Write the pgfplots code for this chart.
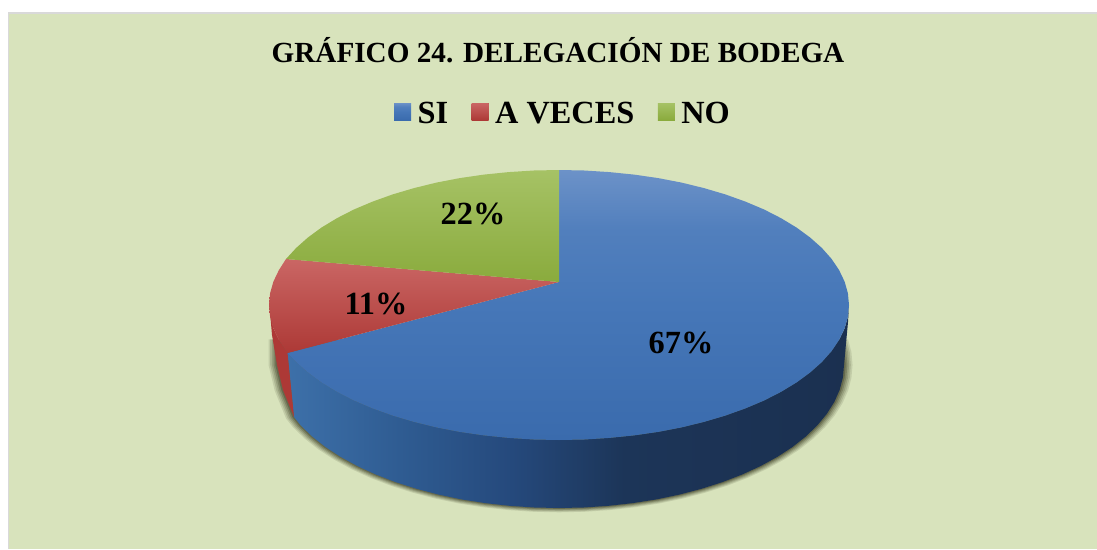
\documentclass[border=0pt]{standalone}
\usepackage{pgfplots}
\usepackage{pgfplotstable}
\pgfplotsset{compat=1.18}
\usepackage{fontspec}
\setmainfont{Liberation Serif}
\definecolor{bgc}{HTML}{D8E3BC}
\definecolor{shadowc}{HTML}{33331A}
\definecolor{b1}{HTML}{3A6BAD}\definecolor{b2}{HTML}{4677B8}\definecolor{b3}{HTML}{6C92C8}
\definecolor{r1}{HTML}{AD3936}\definecolor{r2}{HTML}{CA6664}
\definecolor{g1}{HTML}{8AAB3D}\definecolor{g2}{HTML}{A6C265}
\definecolor{w1}{HTML}{3D70A9}\definecolor{w2}{HTML}{2F5C92}\definecolor{w3}{HTML}{25497C}\definecolor{w4}{HTML}{1C3558}\definecolor{w5}{HTML}{1B3050}
\pgfdeclareverticalshading{blueface}{100bp}{color(0bp)=(b1);color(25bp)=(b1);color(50bp)=(b2);color(64bp)=(b2!70!b3);color(75bp)=(b3);color(100bp)=(b3)}
\pgfdeclareverticalshading{redface}{100bp}{color(0bp)=(r1);color(25bp)=(r1);color(75bp)=(r2);color(100bp)=(r2)}
\pgfdeclareverticalshading{greenface}{100bp}{color(0bp)=(g1);color(25bp)=(g1);color(75bp)=(g2);color(100bp)=(g2)}
\pgfdeclarehorizontalshading{bluewall}{100bp}{color(0bp)=(w1);color(25bp)=(w1);color(35bp)=(w2);color(45bp)=(w3);color(55bp)=(w4);color(75bp)=(w5);color(100bp)=(w5)}
\pgfplotstableread{
x y
839.7 340.2
842.9 352.5
844 365
842.9 377.5
839.7 389.8
834.3 402.0
826.8 413.9
817.3 425.4
805.8 436.5
792.5 447.0
777.3 456.9
760.5 466.1
742.2 474.5
722.5 482.1
701.5 488.8
679.4 494.6
656.5 499.4
632.8 503.1
608.5 505.8
583.8 507.5
559 508
534.2 507.5
509.5 505.8
485.2 503.1
461.5 499.4
438.6 494.6
416.5 488.8
395.5 482.1
375.8 474.5
357.5 466.1
340.7 456.9
325.5 447.0
312.2 436.5
300.7 425.4
294 417
283 390
277 365
277 340
}\shadowtable
\begin{document}
\begin{tikzpicture}
\begin{axis}[
  scale only axis, width=1097pt, height=549pt,
  xmin=0, xmax=1097, ymin=0, ymax=549, y dir=reverse,
  hide axis,
  legend columns=3,
  legend cell align=left,
  legend style={at={(axis cs:563,113.5)}, anchor=center, draw=none, fill=none,
    inner sep=0pt, outer sep=0pt,
    font=\fontsize{32.3}{36}\selectfont\bfseries,
    /tikz/every odd column/.append style={column sep=4.5pt},
    /tikz/every even column/.append style={column sep=21.5pt}},
]
% page and plot area
\addplot[forget plot, draw=none, fill=white] coordinates {(0,0)(1097,0)(1097,549)(0,549)} --cycle;
\addplot[forget plot, draw=none, fill=black!15] coordinates {(7.5,12)(1097,12)(1097,549)(7.5,549)} --cycle;
\addplot[forget plot, draw=none, fill=bgc] coordinates {(9,13.5)(1097,13.5)(1097,549)(9,549)} --cycle;
% soft shadow under the pie
\addplot[forget plot, draw=none, fill=shadowc, fill opacity=0.12] table[x expr={559+(\thisrow{x}-559)*1.030}, y expr={365+(\thisrow{y}-365)*1.030}] {\shadowtable} --cycle;
\addplot[forget plot, draw=none, fill=shadowc, fill opacity=0.15] table[x expr={559+(\thisrow{x}-559)*1.024}, y expr={365+(\thisrow{y}-365)*1.024}] {\shadowtable} --cycle;
\addplot[forget plot, draw=none, fill=shadowc, fill opacity=0.18] table[x expr={559+(\thisrow{x}-559)*1.018}, y expr={365+(\thisrow{y}-365)*1.018}] {\shadowtable} --cycle;
\addplot[forget plot, draw=none, fill=shadowc, fill opacity=0.24] table[x expr={559+(\thisrow{x}-559)*1.012}, y expr={365+(\thisrow{y}-365)*1.012}] {\shadowtable} --cycle;
\addplot[forget plot, draw=none, fill=shadowc, fill opacity=0.32] table[x expr={559+(\thisrow{x}-559)*1.006}, y expr={365+(\thisrow{y}-365)*1.006}] {\shadowtable} --cycle;
% walls
\addplot[forget plot, draw=none, shade, shading=bluewall] coordinates {
 (849,305)(847.9,316.8)(844.6,328.4)(839.1,339.9)(831.5,351.2)(821.8,362.1)(810.1,372.5)(796.6,382.4)(781.1,391.8)(764.1,400.5)(745.4,408.4)(725.3,415.6)(704,421.9)(681.6,427.4)(658.2,431.9)(634.1,435.4)(609.4,437.9)(584.3,439.5)(559,440)
 (533.7,439.5)(508.6,437.9)(483.9,435.4)(459.8,431.9)(436.4,427.4)(414,421.9)(392.7,415.6)(372.6,408.4)(353.9,400.5)(336.9,391.8)(321.4,382.4)(308,372.5)(296.2,362.1)(287.5,353)
 (294,417)(300.7,425.4)(312.2,436.5)(325.5,447)(340.7,456.9)(357.5,466.1)(375.8,474.5)(395.5,482.1)(416.5,488.8)(438.6,494.6)(461.5,499.4)(485.2,503.1)(509.5,505.8)(534.2,507.5)(559,508)
 (583.8,507.5)(608.5,505.8)(632.8,503.1)(656.5,499.4)(679.4,494.6)(701.5,488.8)(722.5,482.1)(742.2,474.5)(760.5,466.1)(777.3,456.9)(792.5,447)(805.8,436.5)(817.3,425.4)(826.8,413.9)(834.3,402)(839.7,389.8)(842.9,377.5)(844,365)(848,322)
} --cycle;
\addplot[forget plot, draw=none, fill=r1] coordinates {
 (287.5,353)(278.9,339.9)(273.4,328.4)(270,312)(272,335)(277,365)(283,390)(294,417)
} --cycle;
% top faces
\addplot[draw=none, shade, shading=blueface,
  legend image code/.code={\fill[b2] (0pt,-6.5pt) rectangle (17pt,10.5pt);}] coordinates {
 (559,282)(559,170)(584.3,170.5)(609.4,172.1)(634.1,174.6)(658.2,178.1)(681.6,182.6)(704,188.1)(725.3,194.4)(745.4,201.6)(764.1,209.5)(781.1,218.2)(796.6,227.6)(810.1,237.5)(821.8,247.9)(831.5,258.8)(839.1,270.1)(844.6,281.6)(847.9,293.2)(849,305)
 (847.9,316.8)(844.6,328.4)(839.1,339.9)(831.5,351.2)(821.8,362.1)(810.1,372.5)(796.6,382.4)(781.1,391.8)(764.1,400.5)(745.4,408.4)(725.3,415.6)(704,421.9)(681.6,427.4)(658.2,431.9)(634.1,435.4)(609.4,437.9)(584.3,439.5)(559,440)
 (533.7,439.5)(508.6,437.9)(483.9,435.4)(459.8,431.9)(436.4,427.4)(414,421.9)(392.7,415.6)(372.6,408.4)(353.9,400.5)(336.9,391.8)(321.4,382.4)(308,372.5)(296.2,362.1)(287.5,353)
} --cycle;
\addlegendentry{SI}
\addplot[draw=none, shade, shading=redface,
  legend image code/.code={\fill[r1!50!r2] (0pt,-6.5pt) rectangle (17pt,10.5pt);}] coordinates {
 (559,282)(286,259)(278.9,270.1)(273.4,281.6)(270.1,293.2)(269,305)(270.1,316.8)(273.4,328.4)(278.9,339.9)(287.5,353)
} --cycle;
\addlegendentry{A VECES}
\addplot[draw=none, shade, shading=greenface,
  legend image code/.code={\fill[g1!50!g2] (0pt,-6.5pt) rectangle (17pt,10.5pt);}] coordinates {
 (559,282)(559,170)(533.7,170.5)(508.6,172.1)(483.9,174.6)(459.8,178.1)(436.4,182.6)(414,188.1)(392.7,194.4)(372.6,201.6)(353.9,209.5)(336.9,218.2)(321.4,227.6)(307.9,237.5)(296.2,247.9)(286,259)
} --cycle;
\addlegendentry{NO}
% labels
\node[font=\fontsize{29.2}{33}\selectfont\bfseries] at (axis cs:558,50.5) {GRÁFICO 24. DELEGACIÓN DE BODEGA};
\node[font=\fontsize{32.3}{36}\selectfont\bfseries] at (axis cs:473,214) {22\%};
\node[font=\fontsize{32.3}{36}\selectfont\bfseries] at (axis cs:376,304) {11\%};
\node[font=\fontsize{32.3}{36}\selectfont\bfseries] at (axis cs:681,343) {67\%};
\end{axis}
\end{tikzpicture}
\end{document}
